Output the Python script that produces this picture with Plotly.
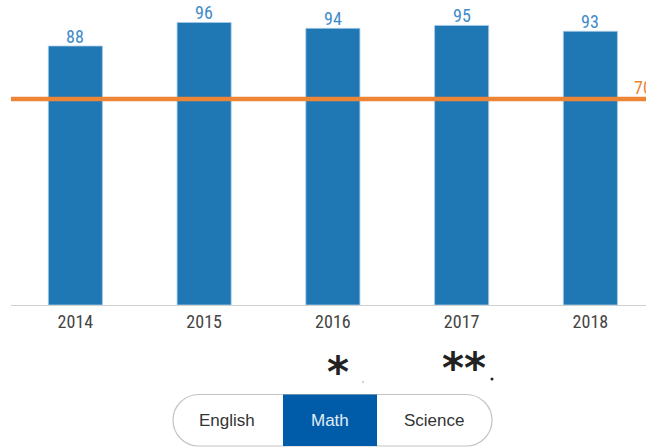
import plotly.graph_objects as go

# Scores by year for the selected subject
years = ["2014", "2015", "2016", "2017", "2018"]
scores = [88, 96, 94, 95, 93]
target = 70
subjects = ["English", "Math", "Science"]
active_subject = "Math"

W, H = 646, 447


def px(x):
    return x / W


def py(y):
    return 1 - y / H


BAR = "#1f77b4"
LABEL_BLUE = "#3f8bca"
ORANGE = "#ec8535"
LABEL_FONT = "Roboto Condensed, DejaVu Sans Condensed, Roboto"

fig = go.Figure()

fig.add_trace(go.Bar(
    x=years,
    y=scores,
    width=0.42,
    marker=dict(color=BAR, line=dict(color="#a8cbe8", width=0.8)),
    hoverinfo="skip",
))

# Value labels above the bars (category index for x)
for i, v in enumerate(scores):
    fig.add_annotation(
        x=i, y=v, xref="x", yref="y", text=str(v), showarrow=False,
        xanchor="center", yanchor="bottom", yshift=-2.5,
        font=dict(family=LABEL_FONT, size=18, color=LABEL_BLUE),
    )

# Target line across the whole plot width
fig.add_shape(
    type="line", xref="x domain", yref="y",
    x0=0, x1=1.05, y0=target, y1=target,
    line=dict(color=ORANGE, width=4.5),
    layer="above",
)
fig.add_annotation(
    xref="paper", yref="y", x=px(632), y=target,
    text=str(target), showarrow=False,
    xanchor="left", yanchor="bottom", yshift=-1.5,
    font=dict(family=LABEL_FONT, size=18, color=ORANGE),
)

# Footnote markers
fig.add_annotation(
    xref="paper", yref="paper", x=px(337.5), y=py(372),
    text="*", showarrow=False, xanchor="center", yanchor="middle",
    font=dict(family="DejaVu Sans", size=42, color="#222222", weight="bold"),
)
fig.add_annotation(
    xref="paper", yref="paper", x=px(463.5), y=py(368),
    text="**", showarrow=False, xanchor="center", yanchor="middle",
    font=dict(family="DejaVu Sans", size=42, color="#222222", weight="bold"),
)
fig.add_shape(type="circle", xref="paper", yref="paper",
              x0=px(362.3), x1=px(363.7), y0=py(382.7), y1=py(381.3),
              fillcolor="#888888", line=dict(width=0))
fig.add_shape(type="circle", xref="paper", yref="paper",
              x0=px(490.5), x1=px(493.5), y0=py(380.5), y1=py(377.5),
              fillcolor="#222222", line=dict(width=0))

# Subject selector (pill-shaped button group)
left, right, top, bottom = 173, 492, 394.5, 446
r = (bottom - top) / 2
k = 0.5523 * r


def pt(x, y):
    return f"{px(x):.5f},{py(y):.5f}"


path = (
    f"M {pt(left + r, top)} L {pt(right - r, top)} "
    f"C {pt(right - r + k, top)} {pt(right, top + r - k)} {pt(right, top + r)} "
    f"C {pt(right, top + r + k)} {pt(right - r + k, bottom)} {pt(right - r, bottom)} "
    f"L {pt(left + r, bottom)} "
    f"C {pt(left + r - k, bottom)} {pt(left, top + r + k)} {pt(left, top + r)} "
    f"C {pt(left, top + r - k)} {pt(left + r - k, top)} {pt(left + r, top)} Z"
)
fig.add_shape(type="path", xref="paper", yref="paper", path=path,
              fillcolor="white", line=dict(color="#c4c4c4", width=1.2))

seg_edges = [left, 283, 377, right]
seg_centers = [227, 330, 434]
for i, name in enumerate(subjects):
    active = name == active_subject
    if active:
        fig.add_shape(type="rect", xref="paper", yref="paper",
                      x0=px(seg_edges[i]), x1=px(seg_edges[i + 1]),
                      y0=py(bottom), y1=py(top),
                      fillcolor="#005ca9", line=dict(width=0))
    fig.add_annotation(
        xref="paper", yref="paper", x=px(seg_centers[i]), y=py(420),
        text=name, showarrow=False, xanchor="center", yanchor="middle",
        font=dict(family="Liberation Sans, Arial", size=17,
                  color="#e3ecf6" if active else "#333333"),
    )

fig.update_layout(
    width=W, height=H, autosize=False,
    margin=dict(l=0, r=0, t=0, b=0),
    paper_bgcolor="white", plot_bgcolor="white",
    showlegend=False,
    bargap=0.58,
    xaxis=dict(
        domain=[px(11), 1],
        range=[-0.5, 4.432],
        type="category",
        showline=True, linecolor="#d0d0d0", linewidth=1,
        showgrid=False, ticks="", zeroline=False,
        tickfont=dict(family=LABEL_FONT, size=18, color="#444444"),
        fixedrange=True,
    ),
    yaxis=dict(
        domain=[py(305), py(10.7)],
        range=[0, 100],
        visible=False, showgrid=False, zeroline=False,
        fixedrange=True,
    ),
)

fig.write_html("out.html", config={"displayModeBar": False})
